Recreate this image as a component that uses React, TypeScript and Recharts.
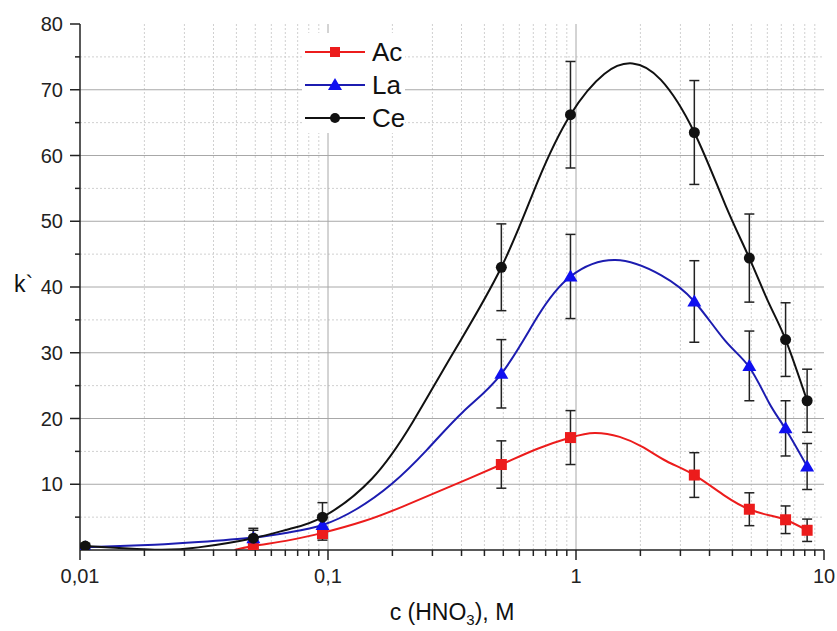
import React from 'react';
import { ComposedChart, Line, Scatter, ErrorBar, XAxis, YAxis, ReferenceLine } from 'recharts';

// measured points (x = HNO3 concentration, M)
const pointX = [0.0105, 0.05, 0.095, 0.5, 0.95, 3, 5, 7, 8.55];
const acY = [null, 0.6, 2.5, 13.0, 17.1, 11.4, 6.2, 4.6, 3.0];
const acErr = [null, 0.5, 1.0, 3.6, 4.1, 3.4, 2.5, 2.1, 1.7];
const laY = [0.4, 1.8, 3.8, 26.8, 41.6, 37.8, 28.0, 18.5, 12.7];
const laErr = [0.3, 1.2, 1.5, 5.2, 6.4, 6.2, 5.3, 4.2, 3.5];
const ceY = [0.6, 1.8, 5.0, 43.0, 66.2, 63.5, 44.4, 32.0, 22.7];
const ceErr = [0.4, 1.5, 2.2, 6.6, 8.1, 7.9, 6.7, 5.6, 4.8];

// fitted curves
const acCurveX = [0.042, 0.05, 0.07, 0.095, 0.14, 0.2, 0.3, 0.5, 0.7, 0.95, 1.19, 1.5, 1.87, 2.32, 3, 4, 5, 6, 7, 8.55];
const acCurveY = [0, 0.6, 1.5, 2.6, 4.4, 6.6, 9.4, 13.0, 15.4, 17.1, 17.8, 17.2, 15.6, 13.5, 11.4, 8.2, 6.2, 5.3, 4.6, 3.0];
const laCurveX = [0.0105, 0.02, 0.03, 0.05, 0.07, 0.095, 0.13, 0.18, 0.25, 0.35, 0.5, 0.7, 0.95, 1.44, 2.2, 3, 4, 5, 6, 7, 8.55];
const laCurveY = [0.4, 0.8, 1.2, 1.9, 2.7, 3.8, 6.2, 10, 15.2, 21, 26.8, 35.5, 41.6, 44.1, 41.8, 37.8, 31.8, 27.8, 22.4, 18.4, 12.7];
const ceCurveX = [0.0105, 0.02, 0.03, 0.05, 0.07, 0.095, 0.15, 0.22, 0.32, 0.5, 0.7, 0.95, 1.3, 1.69, 2.2, 3, 4, 5, 6, 7, 8.55];
const ceCurveY = [0.6, 0.05, 0.4, 1.8, 3.2, 5.0, 10.8, 19.5, 30, 43.0, 56, 66.2, 72.4, 74, 71.5, 63.5, 52.5, 44.4, 37.5, 32, 22.7];

const X_MAJOR = [0.01, 0.1, 1, 10];
const Y_MAJOR = [10, 20, 30, 40, 50, 60, 70, 80];
const Y_MINOR = [5, 15, 25, 35, 45, 55, 65, 75];
// Origin style: 10 linear minor ticks inside each decade
const X_MINOR = [0.01, 0.1, 1].flatMap((d) => [1, 2, 3, 4, 5, 6, 7, 8, 9, 10].map((k) => d * (1 + (9 * k) / 11)));

const toPoints = (ys: (number | null)[], errs: (number | null)[]) =>
  pointX.map((x, i) => ({ x, y: ys[i], err: errs[i] })).filter((p) => p.y !== null);
const toCurve = (xs: number[], ys: number[]) => xs.map((x, i) => ({ x, y: ys[i] }));

const acPoints = toPoints(acY, acErr);
const laPoints = toPoints(laY, laErr);
const cePoints = toPoints(ceY, ceErr);

const RED = '#ec1c1c';
const BLUE = '#1010f0';
const BLUE_LINE = '#1c1cb0';
const BLACK = '#111';
const FONT = '"Liberation Sans", Arial, sans-serif';

const fmt = (v: number) => String(v).replace('.', ',');

const XTick = (props: any) => {
  const { x, y, payload } = props;
  const major = X_MAJOR.includes(payload.value);
  return (
    <g>
      <line x1={x} x2={x} y1={y} y2={y + (major ? 10 : 6)} stroke="#222" strokeWidth={1.5} />
      {major && (
        <text x={x} y={y + 33} textAnchor="middle" fontSize={20} fill="#222" fontFamily={FONT}>
          {fmt(payload.value)}
        </text>
      )}
    </g>
  );
};

const YTick = (props: any) => {
  const { x, y, payload } = props;
  const major = Y_MAJOR.includes(payload.value);
  return (
    <g>
      <line x1={x - (major ? 10 : 5)} x2={x} y1={y} y2={y} stroke="#222" strokeWidth={1.5} />
      {major && (
        <text x={x - 17} y={y + 7} textAnchor="end" fontSize={20} fill="#222" fontFamily={FONT}>
          {payload.value}
        </text>
      )}
    </g>
  );
};

const square = (p: any) => <rect x={p.cx - 5.5} y={p.cy - 5.5} width={11} height={11} fill={RED} />;
const triangle = (p: any) => (
  <polygon points={`${p.cx},${p.cy - 7} ${p.cx - 7},${p.cy + 5} ${p.cx + 7},${p.cy + 5}`} fill={BLUE} />
);
const circle = (p: any) => <circle cx={p.cx} cy={p.cy} r={5.5} fill={BLACK} />;

const legendItems = [
  { name: 'Ac', color: RED, mark: 'square' },
  { name: 'La', color: BLUE_LINE, mark: 'triangle' },
  { name: 'Ce', color: BLACK, mark: 'circle' },
];

function ChartLegend() {
  return (
    <div style={{ position: 'absolute', left: 302, top: 33, width: 103, height: 100, background: '#fff' }}>
      <svg width={103} height={100}>
        {legendItems.map((it, i) => {
          const cy = 19 + i * 33;
          return (
            <g key={it.name}>
              <line x1={3} x2={63} y1={cy} y2={cy} stroke={it.color} strokeWidth={2} />
              {it.mark === 'square' && <rect x={28} y={cy - 5} width={10} height={10} fill={RED} />}
              {it.mark === 'triangle' && (
                <polygon points={`33,${cy - 7} 26,${cy + 5} 40,${cy + 5}`} fill={BLUE} />
              )}
              {it.mark === 'circle' && <circle cx={33} cy={cy} r={5} fill={BLACK} />}
              <text x={70} y={cy + 9} fontSize={26} fill="#111" fontFamily={FONT}>
                {it.name}
              </text>
            </g>
          );
        })}
      </svg>
    </div>
  );
}

export default function App() {
  return (
    <div style={{ position: 'absolute', left: 0, top: 0, width: 837, height: 631, background: '#fff', overflow: 'hidden' }}>
      <ComposedChart width={837} height={631} margin={{ top: 24, right: 13, left: 0, bottom: 0 }}>
        <XAxis
          dataKey="x"
          type="number"
          scale="log"
          domain={[0.01, 10]}
          allowDataOverflow
          ticks={[...X_MAJOR, ...X_MINOR].sort((a, b) => a - b)}
          interval={0}
          tickSize={0}
          tickMargin={0}
          tickLine={false}
          tick={<XTick />}
          axisLine={{ stroke: '#222', strokeWidth: 1.5 }}
          height={81}
        />
        <YAxis
          type="number"
          domain={[0, 80]}
          allowDataOverflow
          ticks={[...Y_MINOR, ...Y_MAJOR].sort((a, b) => a - b)}
          interval={0}
          tickSize={0}
          tickMargin={0}
          tickLine={false}
          tick={<YTick />}
          axisLine={{ stroke: '#222', strokeWidth: 1.5 }}
          width={80}
        />
        {Y_MINOR.map((v) => (
          <ReferenceLine key={'ym' + v} y={v} stroke="#d0d0d0" strokeDasharray="2 2" />
        ))}
        {X_MINOR.map((v) => (
          <ReferenceLine key={'xm' + v} x={v} stroke="#d0d0d0" strokeDasharray="2 2" />
        ))}
        {Y_MAJOR.filter((v) => v < 80).map((v) => (
          <ReferenceLine key={'yM' + v} y={v} stroke="#a8a8a8" />
        ))}
        {[0.1, 1].map((v) => (
          <ReferenceLine key={'xM' + v} x={v} stroke="#a8a8a8" />
        ))}
        <Line data={toCurve(acCurveX, acCurveY)} dataKey="y" type="natural" stroke={RED} strokeWidth={2} dot={false} isAnimationActive={false} />
        <Line data={toCurve(laCurveX, laCurveY)} dataKey="y" type="natural" stroke={BLUE_LINE} strokeWidth={2} dot={false} isAnimationActive={false} />
        <Line data={toCurve(ceCurveX, ceCurveY)} dataKey="y" type="natural" stroke={BLACK} strokeWidth={2} dot={false} isAnimationActive={false} />
        <Scatter data={acPoints} dataKey="y" shape={square} isAnimationActive={false}>
          <ErrorBar dataKey="err" direction="y" width={5} stroke="#222" strokeWidth={1.5} />
        </Scatter>
        <Scatter data={laPoints} dataKey="y" shape={triangle} isAnimationActive={false}>
          <ErrorBar dataKey="err" direction="y" width={5} stroke="#222" strokeWidth={1.5} />
        </Scatter>
        <Scatter data={cePoints} dataKey="y" shape={circle} isAnimationActive={false}>
          <ErrorBar dataKey="err" direction="y" width={5} stroke="#222" strokeWidth={1.5} />
        </Scatter>
      </ComposedChart>
      <ChartLegend />
      <div style={{ position: 'absolute', left: 14, top: 271, fontSize: 23, fontFamily: FONT, color: '#111' }}>k`</div>
      <svg style={{ position: 'absolute', left: 0, top: 590 }} width={837} height={41}>
        <text x={452} y={30} textAnchor="middle" fontSize={23} fill="#111" fontFamily={FONT}>
          c (HNO
          <tspan fontSize={15} dy={5}>3</tspan>
          <tspan dy={-5}>), M</tspan>
        </text>
      </svg>
    </div>
  );
}
